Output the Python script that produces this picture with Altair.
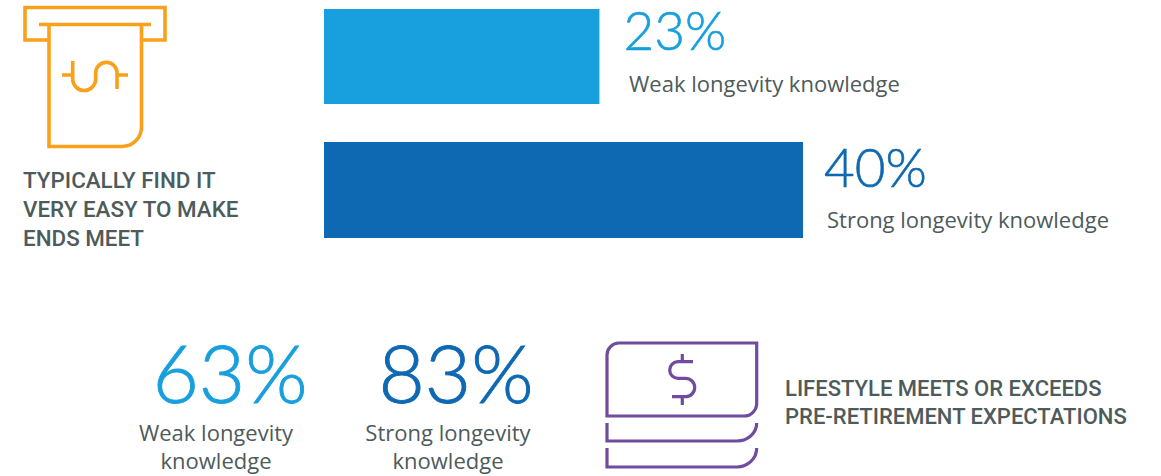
import altair as alt
import pandas as pd

# Shares of respondents, by strength of longevity knowledge
groups = ["Weak longevity knowledge", "Strong longevity knowledge"]
easy_ends_meet = [23, 40]
lifestyle_meets = [63, 83]
group_colors = ["#189fdd", "#0e68b2"]

heading_top = ["TYPICALLY FIND IT", "VERY EASY TO MAKE", "ENDS MEET"]
heading_bottom = ["LIFESTYLE MEETS OR EXCEEDS", "PRE-RETIREMENT EXPECTATIONS"]

GREY = "#4e5b5b"
ORANGE = "#f9a11b"
PURPLE = "#6f4c9f"
SANS = "Open Sans"
CAPS = "Roboto"
LIGHT = "Lato"

# Icon outlines; a symbol of size 4 draws its path at one unit per pixel
ATM_ICON = (
    "M48 40H25V7.5H165V40H142"
    "M39 24.5H151"
    "M49 24.5V146.5H122A19.5 19.5 0 0 0 141.5 127V24.5"
    "M62 75H72.7M72.7 61V79A11.5 11.5 0 0 0 95.7 79V72A10.7 10.7 0 0 1 117 72V89M117 75H128"
)
CASH_ICON = (
    "M756.7 343H619A12 12 0 0 0 607 355V416H744A12.7 12.7 0 0 0 756.7 403.3Z"
    "M607 423V441H737A19.7 18 0 0 0 756.7 423"
    "M607 448V467H737A19.7 19 0 0 0 756.7 448"
    "M693 361.7H678A8.3 8.3 0 0 0 678 378.3H685.5A9.2 9.2 0 0 1 685.5 396.7H672"
    "M682.3 354V361.7M682.3 396.7V405"
)


def icon(path, color, width):
    return alt.Chart(pd.DataFrame({"i": [0]})).mark_point(
        shape=path, size=4, filled=False, stroke=color, strokeWidth=width, opacity=1
    ).encode(x=alt.value(0), y=alt.value(0))


def label(text, x, y, size, color, font=SANS, weight=400, align="left", line_height=None, stroke=0):
    opts = dict(text=text, fontSize=size, color=color, font=font, fontWeight=weight,
                align=align, baseline="alphabetic")
    if line_height:
        opts["lineHeight"] = line_height
    if stroke:
        opts["stroke"] = color
        opts["strokeWidth"] = stroke
    return alt.Chart(pd.DataFrame({"i": [0]})).mark_text(**opts).encode(
        x=alt.value(x), y=alt.value(y)
    )


x_scale = alt.Scale(domain=[0, 40], range=[324, 803])
bar_rows = [(9, 104, 24, 50), (142, 238, 21, 187)]

layers = [icon(ATM_ICON, ORANGE, 3.6), icon(CASH_ICON, PURPLE, 3.2)]

# Horizontal bars with their value labels
for i, (top, bottom, pad, baseline) in enumerate(bar_rows):
    row = pd.DataFrame({"value": [easy_ends_meet[i]], "start": [0], "text": [f"{easy_ends_meet[i]}%"]})
    base = alt.Chart(row)
    layers.append(
        base.mark_rect(color=group_colors[i]).encode(
            x=alt.X("value:Q", scale=x_scale, axis=None),
            x2="start:Q",
            y=alt.value(top),
            y2=alt.value(bottom),
        )
    )
    layers.append(
        base.mark_text(
            align="left", baseline="alphabetic", dx=pad, fontSize=53, fontWeight=300,
            font=LIGHT, color=group_colors[i], stroke=group_colors[i], strokeWidth=0.6,
        ).encode(
            x=alt.X("value:Q", scale=x_scale, axis=None),
            y=alt.value(baseline),
            text="text:N",
        )
    )

layers += [
    label(groups[0], 629, 92, 22, GREY),
    label(groups[1], 827, 228, 22, GREY),
    label(heading_top, 23, 188, 22.4, GREY, font=CAPS, weight=500, line_height=29),
    label(f"{lifestyle_meets[0]}%", 230, 403, 80, group_colors[0], font=LIGHT, weight=300, align="center", stroke=0.9),
    label(f"{lifestyle_meets[1]}%", 456, 403, 80, group_colors[1], font=LIGHT, weight=300, align="center", stroke=0.9),
    label(["Weak longevity", "knowledge"], 216, 441, 22, GREY, align="center", line_height=28),
    label(["Strong longevity", "knowledge"], 448, 441, 22, GREY, align="center", line_height=28),
    label(heading_bottom, 785, 396, 22, GREY, font=CAPS, weight=500, line_height=28),
]

chart = alt.layer(*layers).properties(
    width=1161, height=476, padding=0,
    autosize=alt.AutoSizeParams(type="none"), background="white",
).configure_view(stroke=None)

chart.save("out.html", embed_options={"renderer": "svg", "actions": False})
